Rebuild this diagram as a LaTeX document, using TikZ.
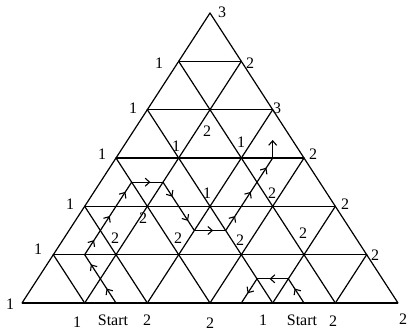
\documentclass[tikz,border=0pt]{standalone}
\usepackage{fontspec}
\setmainfont{Liberation Serif}
\usetikzlibrary{calc,decorations.markings,arrows.meta}
\tikzset{
  grid/.style={line width=1.2pt, line cap=round},
  baseline/.style={line width=1.7pt},
  pathseg/.style={line width=1.2pt, postaction={decorate},
    decoration={markings, mark=at position 0.6 with {\arrow{Straight Barb[length=4.5pt,width=8pt,line width=1.1pt]}}}},
  lab/.style={font=\fontsize{16}{16}\selectfont, inner sep=0pt},
}
\begin{document}
\begin{tikzpicture}[x=1pt,y=-1pt]
\useasboundingbox (0,0) rectangle (409,332);
% lattice
\foreach \j in {0,...,6}{
  \pgfmathtruncatemacro\m{6-\j}
  \foreach \i in {0,...,\m}{
    \coordinate (v\i-\j) at ({22+(\i+\j/2)*62.667},{303-\j*48.333});
  }
}
% horizontal lines
\foreach \j in {1,...,5}{
  \pgfmathtruncatemacro\m{6-\j}
  \draw[grid] (v0-\j) -- (v\m-\j);
}
\draw[baseline] (v0-0) -- (v6-0);
% up-right lines
\foreach \i in {0,...,5}{
  \pgfmathtruncatemacro\m{6-\i}
  \draw[grid] (v\i-0) -- (v\i-\m);
}
% up-left lines
\foreach \k in {1,...,6}{
  \draw[grid] (v\k-0) -- (v0-\k);
}
% left path points
\coordinate (L0) at ($(v1-0)!0.5!(v2-0)$);
\coordinate (L1) at ($(v1-0)!0.5!(v1-1)$);
\coordinate (L2) at ($(v0-1)!0.5!(v1-1)$);
\coordinate (L3) at ($(v0-2)!0.5!(v1-1)$);
\coordinate (L4) at ($(v0-2)!0.5!(v1-2)$);
\coordinate (L5) at ($(v0-3)!0.5!(v1-2)$);
\coordinate (L6) at ($(v1-2)!0.5!(v1-3)$);
\coordinate (L7) at ($(v1-2)!0.5!(v2-2)$);
\coordinate (L8) at ($(v2-1)!0.5!(v2-2)$);
\coordinate (L9) at ($(v3-1)!0.5!(v2-2)$);
\coordinate (L10) at ($(v2-2)!0.5!(v3-2)$);
\coordinate (L11) at ($(v3-2)!0.5!(v2-3)$);
\coordinate (L12) at ($(v2-3)!0.5!(v3-3)$);
\coordinate (L13) at ($(L12)+(0,-18)$);
\draw[pathseg] (L0) -- (L1);
\draw[pathseg] (L1) -- (L2);
\draw[pathseg] (L2) -- (L3);
\draw[pathseg] (L3) -- (L4);
\draw[pathseg] (L4) -- (L5);
\draw[pathseg] (L5) -- (L6);
\draw[pathseg] (L6) -- (L7);
\draw[pathseg] (L7) -- (L8);
\draw[pathseg] (L8) -- (L9);
\draw[pathseg] (L9) -- (L10);
\draw[pathseg] (L10) -- (L11);
\draw[pathseg] (L11) -- (L12);
\draw[line width=1.2pt,-{Straight Barb[length=4.5pt,width=8pt,line width=1.1pt]}] (L12) -- (L13);
% right path points
\coordinate (R0) at ($(v4-0)!0.5!(v5-0)$);
\coordinate (R1) at ($(v4-0)!0.5!(v4-1)$);
\coordinate (R2) at ($(v4-0)!0.5!(v3-1)$);
\coordinate (R3) at ($(v3-0)!0.5!(v4-0)$);
\draw[pathseg] (R0) -- (R1);
\draw[pathseg] (R1) -- (R2);
\draw[pathseg] (R2) -- (R3);
% labels
\node[lab] (a) at (222,12) {3};
\node[lab] (b1) at (159,63) {1};
\node[lab] (b2) at (250,63) {2};
\node[lab] (c1) at (133,108) {1};
\node[lab] (c2) at (207,131) {2};
\node[lab] (c3) at (277,108) {3};
\node[lab] (d1) at (102,154) {1};
\node[lab] (d2) at (176,146) {1};
\node[lab] (d3) at (241,142) {1};
\node[lab] (d4) at (313,154) {2};
\node[lab] (e1) at (70,204) {1};
\node[lab] (e2) at (143,218) {2};
\node[lab] (e3) at (207,193) {1};
\node[lab] (e4) at (272,193) {2};
\node[lab] (e5) at (345,204) {2};
\node[lab] (f1) at (38,249) {1};
\node[lab] (f2) at (115,238) {2};
\node[lab] (f3) at (178,238) {2};
\node[lab] (f4) at (240,240) {2};
\node[lab] (f5) at (303,233) {2};
\node[lab] (f6) at (375,255) {2};
\node[lab] (g0) at (10,304) {1};
\node[lab] (g1) at (77,322) {1};
\node[lab] (g2) at (147,320) {2};
\node[lab] (g3) at (210,323) {2};
\node[lab] (g4) at (263,320) {1};
\node[lab] (g5) at (333,321) {2};
\node[lab] (g6) at (403,319) {2};
\node[lab] (s1) at (113,320) {Start};
\node[lab] (s2) at (302,320) {Start};
\end{tikzpicture}
\end{document}
